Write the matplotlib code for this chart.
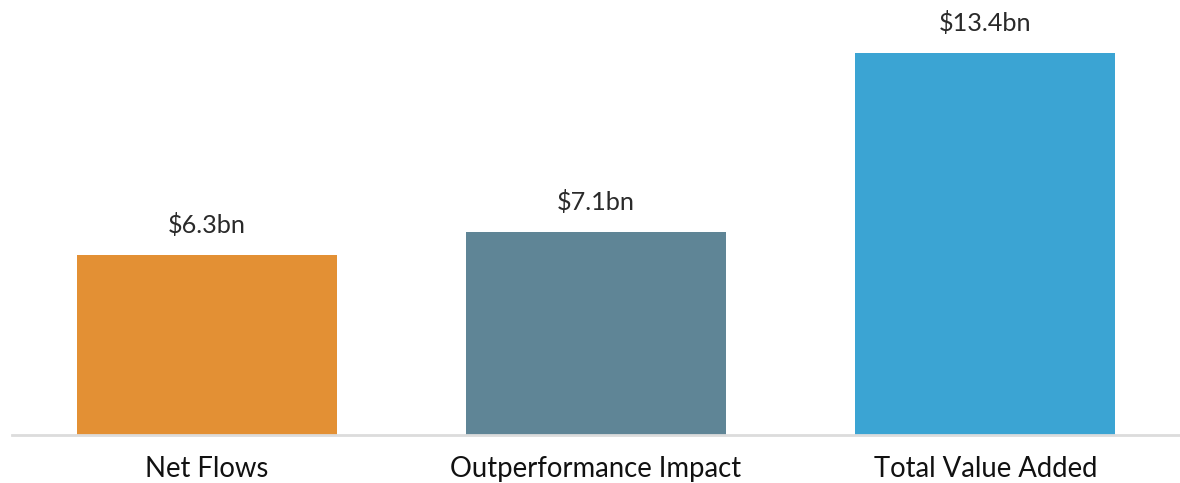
import matplotlib
matplotlib.use("Agg")
import matplotlib.pyplot as plt

categories = ["Net Flows", "Outperformance Impact", "Total Value Added"]
values = [6.3, 7.1, 13.4]
value_labels = ["$6.3bn", "$7.1bn", "$13.4bn"]
colors = ["#E39034", "#5F8596", "#3BA4D3"]

fig = plt.figure(figsize=(11.8, 4.83), dpi=100)
ax = fig.add_axes([12/1180, 48/483, 1 - 12/1180, 1 - 48/483 - 7/483])

x = list(range(len(categories)))
bars = ax.bar(x, values, width=0.668, color=colors, zorder=2)
for b, lab in zip(bars, value_labels):
    ax.annotate(lab, (b.get_x() + b.get_width()/2, b.get_height()),
                xytext=(0, 13), textcoords="offset points",
                ha="center", va="bottom", fontsize=18.2, family="Lato",
                fontweight="normal", color="#2a2a2a")

ax.set_xlim(-0.5, 2.5)
ax.set_ylim(0, 15)
ax.set_xticks(x)
ax.set_xticklabels(categories, fontsize=19.8, family="Lato", color="#111111")
ax.tick_params(axis="x", length=0, pad=15)
ax.set_yticks([])
for s in ["top", "right", "left"]:
    ax.spines[s].set_visible(False)
ax.spines["bottom"].set_color("#DCDCDC")
ax.spines["bottom"].set_linewidth(2)

fig.savefig("out.png", dpi=100)
